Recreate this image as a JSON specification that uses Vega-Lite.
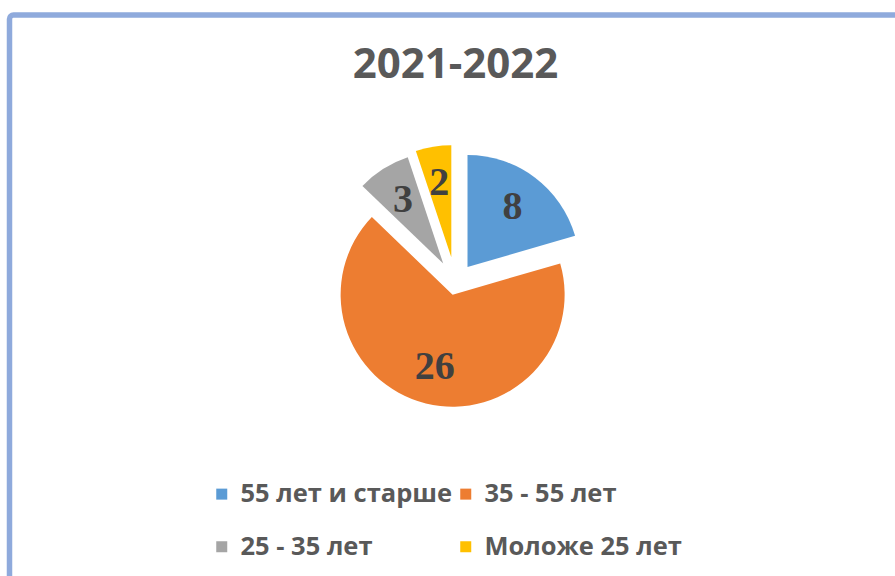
{
  "$schema": "https://vega.github.io/schema/vega-lite/v6.json",
  "autosize": "none",
  "width": 892,
  "height": 600,
  "padding": {"left": 9.5, "top": 15, "right": 0, "bottom": 0},
  "background": "white",
  "view": {"stroke": "#8FAADC", "strokeWidth": 5.5, "cornerRadius": 4, "fill": "white"},
  "title": {
    "text": "2021-2022",
    "font": "Open Sans",
    "fontSize": 42,
    "fontWeight": "bold",
    "color": "#595959",
    "anchor": "middle",
    "frame": "group",
    "baseline": "alphabetic",
    "offset": -105
  },
  "data": {
    "values": [
      {"group": "55 лет и старше", "n": 8, "k": 1},
      {"group": "35 - 55 лет", "n": 26, "k": 2},
      {"group": "25 - 35 лет", "n": 3, "k": 3},
      {"group": "Моложе 25 лет", "n": 2, "k": 4}
    ]
  },
  "encoding": {
    "theta": {"field": "n", "type": "quantitative", "stack": true},
    "order": {"field": "k", "type": "quantitative"}
  },
  "layer": [
    {
      "mark": {
        "type": "arc",
        "radius": 112,
        "xOffset": {"expr": "(datum.group === '35 - 55 лет' ? 12 : datum.group === 'Моложе 25 лет' ? 26 : datum.group === '25 - 35 лет' ? 23 : 20) * sin((scale('theta', datum.n_start) + scale('theta', datum.n_end)) / 2)"},
        "yOffset": {"expr": "-32 - (datum.group === '35 - 55 лет' ? 12 : datum.group === 'Моложе 25 лет' ? 26 : datum.group === '25 - 35 лет' ? 23 : 20) * cos((scale('theta', datum.n_start) + scale('theta', datum.n_end)) / 2)"}
      },
      "encoding": {
        "color": {
          "field": "group",
          "type": "nominal",
          "scale": {
            "domain": ["55 лет и старше", "35 - 55 лет", "25 - 35 лет", "Моложе 25 лет"],
            "range": ["#5B9BD5", "#ED7D31", "#A5A5A5", "#FFC000"]
          },
          "legend": {
            "orient": "none",
            "legendX": 199.5,
            "legendY": 466,
            "columns": 2,
            "direction": "horizontal",
            "title": null,
            "padding": 0,
            "symbolType": "square",
            "symbolSize": 121,
            "symbolStrokeWidth": 0,
            "symbolOpacity": 1,
            "labelFont": "Open Sans",
            "labelFontSize": 25.5,
            "labelFontWeight": "bold",
            "labelColor": "#595959",
            "labelOffset": 6,
            "labelLimit": 500,
            "columnPadding": -2,
            "rowPadding": 26
          }
        }
      }
    },
    {
      "mark": {
        "type": "text",
        "radius": 75,
        "font": "Liberation Serif",
        "fontWeight": "bold",
        "fontSize": 40,
        "align": "center",
        "baseline": "middle",
        "xOffset": {"expr": "(datum.group === '35 - 55 лет' ? 12 : datum.group === 'Моложе 25 лет' ? 26 : datum.group === '25 - 35 лет' ? 23 : 20) * sin((scale('theta', datum.n_start) + scale('theta', datum.n_end)) / 2)"},
        "yOffset": {"expr": "-32 - (datum.group === '35 - 55 лет' ? 12 : datum.group === 'Моложе 25 лет' ? 26 : datum.group === '25 - 35 лет' ? 23 : 20) * cos((scale('theta', datum.n_start) + scale('theta', datum.n_end)) / 2)"}
      },
      "encoding": {
        "text": {"field": "n", "type": "quantitative"},
        "detail": {"field": "group", "type": "nominal"},
        "color": {"value": "#404040"}
      }
    }
  ]
}
